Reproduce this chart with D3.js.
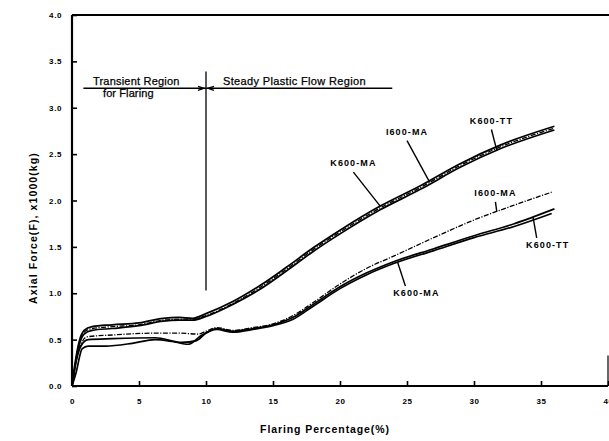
<!DOCTYPE html>
<html>
<head>
<meta charset="utf-8">
<script src="https://cdn.jsdelivr.net/npm/d3@7/dist/d3.min.js"></script>
<style>
  html, body { margin: 0; padding: 0; background: #fff; }
  svg { display: block; }
  text { font-family: "Liberation Sans", Arial, sans-serif; fill: #000; }
</style>
</head>
<body>
<svg id="chart" width="609" height="441"></svg>
<script>
// Axial force vs flaring percentage, two groups of three specimens.
const xTicks = [0, 5, 10, 15, 20, 25, 30, 35, 40];
const yTicks = [0, 0.5, 1.0, 1.5, 2.0, 2.5, 3.0, 3.5, 4.0];

// Upper group: [flaring %, force x1000 kg]
const upperK600MA = [[0,0],[0.2,0.22],[0.5,0.46],[0.9,0.6],[1.5,0.64],[3,0.66],[5,0.68],[6.8,0.73],[8,0.74],[9,0.73],[10,0.78],[12,0.91],[14,1.08],[16,1.28],[18,1.49],[20,1.68],[23,1.94],[26,2.16],[29,2.40],[32,2.60],[36,2.80]];
const upperI600MA = [[0,0],[0.2,0.2],[0.5,0.44],[0.9,0.58],[1.5,0.62],[3,0.64],[5,0.66],[6.8,0.71],[8,0.72],[9,0.72],[10,0.76],[12,0.89],[14,1.06],[16,1.26],[18,1.47],[20,1.66],[23,1.92],[26,2.14],[29,2.38],[32,2.58],[36,2.78]];
const upperK600TT = [[0,0],[0.2,0.18],[0.5,0.42],[0.9,0.56],[1.5,0.6],[3,0.62],[5,0.65],[6.8,0.7],[8,0.71],[9,0.71],[10,0.75],[12,0.88],[14,1.04],[16,1.24],[18,1.45],[20,1.64],[23,1.90],[26,2.12],[29,2.36],[32,2.56],[36,2.76]];

// Lower group
const lowerI600MA = [[0,0],[0.3,0.28],[0.7,0.46],[1.1,0.53],[3,0.55],[6.2,0.57],[8,0.57],[9.4,0.56],[10,0.59],[10.8,0.63],[12,0.60],[13.5,0.63],[15,0.67],[16.5,0.76],[18,0.90],[20,1.10],[22,1.27],[24,1.40],[27,1.60],[30,1.79],[33,1.95],[35.8,2.09]];
const lowerK600TT = [[0,0],[0.3,0.26],[0.7,0.44],[1.2,0.50],[3,0.51],[6.2,0.52],[8.2,0.47],[9.3,0.49],[10,0.57],[10.8,0.62],[12,0.59],[13.5,0.62],[15,0.66],[16.5,0.74],[18,0.88],[20,1.07],[22,1.22],[24,1.34],[27,1.48],[30,1.62],[33,1.75],[36,1.91]];
const lowerK600MA = [[0,0],[0.3,0.14],[0.75,0.40],[1.2,0.43],[2.5,0.43],[4.5,0.46],[6.2,0.50],[7.5,0.48],[8.7,0.45],[9.7,0.55],[10.8,0.61],[12,0.58],[13.5,0.61],[15,0.65],[16.5,0.72],[18,0.86],[20,1.05],[22,1.20],[24,1.32],[27,1.46],[30,1.60],[33,1.72],[35.8,1.86]];

const series = [
  { name: "K600-MA", values: upperK600MA, dashed: false },
  { name: "I600-MA", values: upperI600MA, dashed: true },
  { name: "K600-TT", values: upperK600TT, dashed: false },
  { name: "I600-MA", values: lowerI600MA, dashed: true },
  { name: "K600-TT", values: lowerK600TT, dashed: false },
  { name: "K600-MA", values: lowerK600MA, dashed: false }
];

const svg = d3.select("#chart");
const x = d3.scaleLinear().domain([0, 40]).range([72, 608]);
const y = d3.scaleLinear().domain([0, 4]).range([386, 15]);

// Frame: left, bottom and top borders, short right edge
const frame = svg.append("g").attr("stroke", "#000").attr("fill", "none");
frame.append("line").attr("x1", x(0)).attr("x2", x(0)).attr("y1", y(4)).attr("y2", y(0)).attr("stroke-width", 2.2);
frame.append("line").attr("x1", x(0)).attr("x2", 609).attr("y1", y(4)).attr("y2", y(4)).attr("stroke-width", 2);
frame.append("line").attr("x1", x(40)).attr("x2", x(40)).attr("y1", y(0.33)).attr("y2", y(0)).attr("stroke-width", 1.2);

// Axes with inward ticks
const xAxis = d3.axisBottom(x).tickValues(xTicks).tickSize(-5).tickPadding(12).tickFormat(d3.format("d"));
const gx = svg.append("g").attr("transform", `translate(0,${y(0)})`).call(xAxis);
gx.select(".domain").attr("stroke-width", 2.2).attr("d", `M${x(0)},0H${x(40)}`);
gx.selectAll(".tick line").attr("stroke-width", 1.6);
gx.selectAll(".tick text").attr("font-size", 8).attr("font-weight", "bold").attr("letter-spacing", 0.6)
  .attr("font-family", "Liberation Sans, Arial, sans-serif");

const yAxis = d3.axisLeft(y).tickValues(yTicks).tickSize(-5).tickPadding(10).tickFormat(d3.format(".1f"));
const gy = svg.append("g").attr("transform", `translate(${x(0)},0)`).call(yAxis);
gy.select(".domain").remove();
gy.selectAll(".tick line").attr("stroke-width", 1.6);
gy.selectAll(".tick text").attr("font-size", 8).attr("font-weight", "bold").attr("letter-spacing", 0.6)
  .attr("font-family", "Liberation Sans, Arial, sans-serif");

// Axis titles
svg.append("text").attr("x", 325).attr("y", 433).attr("text-anchor", "middle")
  .attr("font-size", 10.5).attr("font-weight", "bold").attr("letter-spacing", 0.9)
  .text("Flaring Percentage(%)");
svg.append("text").attr("transform", "translate(37,228) rotate(-90)").attr("text-anchor", "middle")
  .attr("font-size", 10.5).attr("font-weight", "bold").attr("letter-spacing", 1.1)
  .text("Axial Force(F), x1000(kg)");

// Region divider
const reg = svg.append("g").attr("stroke", "#000").attr("fill", "none").attr("stroke-width", 1.3);
reg.append("line").attr("x1", x(10)).attr("x2", x(10)).attr("y1", y(3.39)).attr("y2", y(1.03));
reg.append("line").attr("x1", x(0.85)).attr("x2", x(23.9)).attr("y1", y(3.21)).attr("y2", y(3.21));
// small arrow heads either side of the divider
reg.append("path").attr("d", `M${x(10) - 8},${y(3.21) - 2}L${x(10) - 2},${y(3.21)}L${x(10) - 8},${y(3.21) + 2}`);
reg.append("path").attr("d", `M${x(10) + 8},${y(3.21) - 2}L${x(10) + 2},${y(3.21)}L${x(10) + 8},${y(3.21) + 2}`);

const regText = svg.append("g").attr("font-size", 11).attr("stroke", "#000").attr("stroke-width", 0.25);
regText.append("text").attr("x", 93).attr("y", 85).attr("letter-spacing", 0.2).text("Transient Region");
regText.append("text").attr("x", 103).attr("y", 97).attr("letter-spacing", 0.1).text("for Flaring");
regText.append("text").attr("x", 223).attr("y", 85).attr("letter-spacing", 0.35).text("Steady Plastic Flow Region");

// Curves
const line = d3.line().x(d => x(d[0])).y(d => y(d[1])).curve(d3.curveMonotoneX);
svg.append("g").selectAll("path").data(series).join("path")
  .attr("d", d => line(d.values))
  .attr("fill", "none")
  .attr("stroke", "#000")
  .attr("stroke-width", d => d.dashed ? 1.3 : 1.7)
  .attr("stroke-dasharray", d => d.dashed ? "5,1.5,1.2,1.5" : null);

// Value of a series at a given flaring percentage
function valueAt(values, xv) {
  const i = d3.bisector(d => d[0]).left(values, xv);
  if (i <= 0) return values[0][1];
  if (i >= values.length) return values[values.length - 1][1];
  const a = values[i - 1], b = values[i];
  return a[1] + (b[1] - a[1]) * (xv - a[0]) / (b[0] - a[0]);
}

// Curve labels with leader lines
const labels = [
  { s: 0, lx: 21.0, ly: 2.37, tx: 23.0, dy: 6 },
  { s: 1, lx: 25.0, ly: 2.71, tx: 26.7, dy: 6 },
  { s: 2, lx: 31.3, ly: 2.83, tx: 31.7, dy: 6 },
  { s: 3, lx: 31.6, ly: 2.05, tx: 31.7, dy: 6 },
  { s: 4, lx: 35.5, ly: 1.49, tx: 34.4, dy: -10 },
  { s: 5, lx: 25.7, ly: 0.97, tx: 24.3, dy: -10 }
];
const lg = svg.append("g");
labels.forEach(l => {
  const sv = series[l.s];
  const lxp = x(l.lx), lyp = y(l.ly);
  lg.append("text").attr("x", lxp).attr("y", lyp).attr("text-anchor", "middle")
    .attr("font-size", 9).attr("font-weight", "bold").attr("letter-spacing", 1.1)
    .text(sv.name);
  const sx = l.dy > 0 ? lxp : lxp - 11;
  lg.append("line").attr("x1", sx).attr("y1", lyp + l.dy)
    .attr("x2", x(l.tx)).attr("y2", y(valueAt(sv.values, l.tx)))
    .attr("stroke", "#000").attr("stroke-width", 1.4);
});
</script>
</body>
</html>
